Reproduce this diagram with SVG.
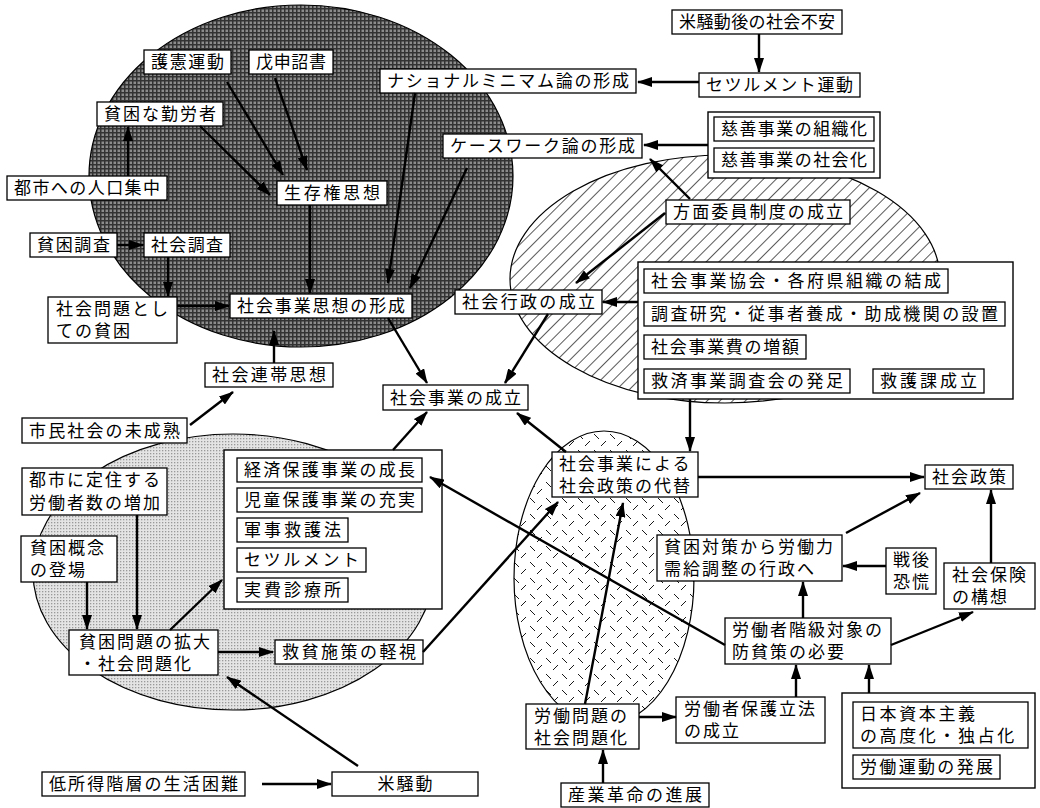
<svg xmlns="http://www.w3.org/2000/svg" width="1040" height="808" viewBox="0 0 1040 808">
<style>
.box{fill:#fff;stroke:#000;stroke-width:1.3}
.grp{fill:#fff;stroke:#000;stroke-width:1.4}
.t{font-family:"Liberation Sans","Noto Sans CJK JP",sans-serif;font-size:17px;fill:#000}
.m{letter-spacing:2px}
.c line{stroke:#000;stroke-width:2.4;marker-end:url(#ah)}
.reg{stroke:#000;stroke-width:1.2}
</style>
<defs>
<marker id="ah" viewBox="0 0 15 10" markerUnits="userSpaceOnUse" markerWidth="15" markerHeight="10" refX="14" refY="5" orient="auto">
<path d="M0,0 L15,5 L0,10 Z" fill="#000"/>
</marker>
<pattern id="check" patternUnits="userSpaceOnUse" width="4" height="4">
<rect width="4" height="4" fill="#8c8c8c"/>
<rect width="4" height="1.5" fill="#333"/>
<rect width="1.5" height="4" fill="#333"/>
</pattern>
<pattern id="hatch" patternUnits="userSpaceOnUse" width="9" height="9" patternTransform="rotate(45)">
<rect width="9" height="9" fill="#fff"/>
<line x1="0" y1="0" x2="0" y2="9" stroke="#000" stroke-width="1.3"/>
</pattern>
<pattern id="dots" patternUnits="userSpaceOnUse" width="3" height="3">
<rect width="3" height="3" fill="#e4e4e4"/>
<rect width="1.3" height="1.3" fill="#999"/>
</pattern>
<pattern id="plate" patternUnits="userSpaceOnUse" width="16" height="16">
<rect width="16" height="16" fill="#fff"/>
<line x1="2" y1="2" x2="7" y2="7" stroke="#000" stroke-width="0.9"/>
<line x1="9" y1="14" x2="14" y2="9" stroke="#000" stroke-width="0.9"/>
</pattern>
</defs>
<rect width="1040" height="808" fill="#fff"/>
<g id="regions">
<ellipse class="reg" cx="301" cy="176" rx="212" ry="171" fill="url(#check)"/>
<ellipse class="reg" cx="725" cy="279" rx="215" ry="124" fill="url(#hatch)"/>
<ellipse class="reg" cx="233" cy="572" rx="200" ry="138" fill="url(#dots)"/>
<ellipse class="reg" cx="604" cy="578" rx="90" ry="147" fill="url(#plate)"/>
</g>
<g id="n1"><rect class="box" x="672" y="10" width="170" height="24"/><text class="t" x="679" y="28" textLength="156" lengthAdjust="spacing">米騒動後の社会不安</text></g>
<g id="n2"><rect class="box" x="699" y="73" width="161" height="24"/><text class="t" x="706" y="91" textLength="147" lengthAdjust="spacing">セツルメント運動</text></g>
<g id="n3"><rect class="box" x="380" y="69" width="256" height="24"/><text class="t" x="387" y="87" textLength="242" lengthAdjust="spacing">ナショナルミニマム論の形成</text></g>
<g id="n4"><rect class="box" x="144" y="50" width="87" height="24"/><text class="t" x="151" y="68" textLength="73" lengthAdjust="spacing">護憲運動</text></g>
<g id="n5"><rect class="box" x="249" y="50" width="84" height="24"/><text class="t" x="256" y="68" textLength="70" lengthAdjust="spacing">戊申詔書</text></g>
<g id="n6"><rect class="box" x="97" y="102" width="126" height="24"/><text class="t" x="104" y="120" textLength="112" lengthAdjust="spacing">貧困な勤労者</text></g>
<g id="n7"><rect class="box" x="443" y="134" width="199" height="24"/><text class="t" x="450" y="152" textLength="185" lengthAdjust="spacing">ケースワーク論の形成</text></g>
<g id="n8"><rect class="grp" x="708" y="112" width="172" height="66"/>
<rect class="box" x="714" y="117" width="160" height="24"/><text class="t" x="721" y="135" textLength="146" lengthAdjust="spacing">慈善事業の組織化</text>
<rect class="box" x="714" y="148" width="160" height="24"/><text class="t" x="721" y="166" textLength="146" lengthAdjust="spacing">慈善事業の社会化</text></g>
<g id="n9"><rect class="box" x="7" y="176" width="160" height="24"/><text class="t" x="14" y="194" textLength="146" lengthAdjust="spacing">都市への人口集中</text></g>
<g id="n10"><rect class="box" x="277" y="181" width="110" height="24"/><text class="t" x="284" y="199" textLength="96" lengthAdjust="spacing">生存権思想</text></g>
<g id="n11"><rect class="box" x="666" y="200" width="184" height="24"/><text class="t" x="673" y="218" textLength="170" lengthAdjust="spacing">方面委員制度の成立</text></g>
<g id="n12"><rect class="box" x="30" y="233" width="87" height="24"/><text class="t" x="37" y="251" textLength="73" lengthAdjust="spacing">貧困調査</text></g>
<g id="n13"><rect class="box" x="144" y="233" width="86" height="24"/><text class="t" x="151" y="251" textLength="72" lengthAdjust="spacing">社会調査</text></g>
<g id="n14"><rect class="box" x="48" y="297" width="129" height="46"/><text class="t m"><tspan x="56" y="315">社会問題とし</tspan><tspan x="56" y="337">ての貧困</tspan></text></g>
<g id="n15"><rect class="box" x="230" y="294" width="182" height="24"/><text class="t" x="237" y="312" textLength="168" lengthAdjust="spacing">社会事業思想の形成</text></g>
<g id="n16"><rect class="box" x="455" y="290" width="147" height="24"/><text class="t" x="462" y="308" textLength="133" lengthAdjust="spacing">社会行政の成立</text></g>
<g id="n17"><rect class="grp" x="638" y="262" width="375" height="137"/>
<rect class="box" x="644" y="269" width="304" height="24"/><text class="t" x="651" y="287" textLength="290" lengthAdjust="spacing">社会事業協会・各府県組織の結成</text>
<rect class="box" x="644" y="302" width="361" height="24"/><text class="t" x="651" y="320" textLength="347" lengthAdjust="spacing">調査研究・従事者養成・助成機関の設置</text>
<rect class="box" x="644" y="335" width="162" height="24"/><text class="t" x="651" y="353" textLength="148" lengthAdjust="spacing">社会事業費の増額</text>
<rect class="box" x="644" y="369" width="206" height="24"/><text class="t" x="651" y="387" textLength="192" lengthAdjust="spacing">救済事業調査会の発足</text>
<rect class="box" x="873" y="369" width="111" height="24"/><text class="t" x="880" y="387" textLength="97" lengthAdjust="spacing">救護課成立</text></g>
<g id="n18"><rect class="box" x="205" y="363" width="128" height="24"/><text class="t" x="212" y="381" textLength="114" lengthAdjust="spacing">社会連帯思想</text></g>
<g id="n19"><rect class="box" x="22" y="418" width="165" height="25"/><text class="t" x="29" y="437" textLength="151" lengthAdjust="spacing">市民社会の未成熟</text></g>
<g id="n20"><rect class="box" x="383" y="385" width="145" height="25"/><text class="t" x="390" y="404" textLength="131" lengthAdjust="spacing">社会事業の成立</text></g>
<g id="n21"><rect class="box" x="552" y="452" width="146" height="45"/><text class="t m"><tspan x="559" y="470">社会事業による</tspan><tspan x="559" y="492">社会政策の代替</tspan></text></g>
<g id="n22"><rect class="box" x="925" y="465" width="88" height="24"/><text class="t" x="932" y="483" textLength="74" lengthAdjust="spacing">社会政策</text></g>
<g id="n23"><rect class="grp" x="224" y="450" width="218" height="159"/>
<rect class="box" x="237" y="458" width="185" height="24"/><text class="t" x="244" y="476" textLength="171" lengthAdjust="spacing">経済保護事業の成長</text>
<rect class="box" x="237" y="488" width="185" height="24"/><text class="t" x="244" y="506" textLength="171" lengthAdjust="spacing">児童保護事業の充実</text>
<rect class="box" x="237" y="518" width="111" height="24"/><text class="t" x="244" y="536" textLength="97" lengthAdjust="spacing">軍事救護法</text>
<rect class="box" x="237" y="548" width="129" height="24"/><text class="t" x="244" y="566" textLength="115" lengthAdjust="spacing">セツルメント</text>
<rect class="box" x="237" y="578" width="111" height="24"/><text class="t" x="244" y="596" textLength="97" lengthAdjust="spacing">実費診療所</text></g>
<g id="n24"><rect class="box" x="22" y="468" width="145" height="47"/><text class="t m"><tspan x="29" y="486">都市に定住する</tspan><tspan x="29" y="509">労働者数の増加</tspan></text></g>
<g id="n25"><rect class="box" x="21" y="536" width="96" height="46"/><text class="t m"><tspan x="30" y="554">貧困概念</tspan><tspan x="30" y="576">の登場</tspan></text></g>
<g id="n26"><rect class="box" x="69" y="630" width="149" height="45"/><text class="t m"><tspan x="79" y="648">貧困問題の拡大</tspan><tspan x="79" y="670">・社会問題化</tspan></text></g>
<g id="n27"><rect class="box" x="275" y="640" width="148" height="24"/><text class="t" x="282" y="658" textLength="134" lengthAdjust="spacing">救貧施策の軽視</text></g>
<g id="n28"><rect class="box" x="42" y="772" width="203" height="24"/><text class="t" x="49" y="790" textLength="189" lengthAdjust="spacing">低所得階層の生活困難</text></g>
<g id="n29"><rect class="box" x="332" y="772" width="146" height="24"/><text class="t m" x="406" y="790" text-anchor="middle">米騒動</text></g>
<g id="n30"><rect class="box" x="657" y="535" width="185" height="46"/><text class="t m"><tspan x="664" y="553">貧困対策から労働力</tspan><tspan x="664" y="575">需給調整の行政へ</tspan></text></g>
<g id="n31"><rect class="box" x="886" y="548" width="50" height="46"/><text class="t m"><tspan x="893" y="566">戦後</tspan><tspan x="893" y="588">恐慌</tspan></text></g>
<g id="n32"><rect class="box" x="944" y="563" width="91" height="46"/><text class="t m"><tspan x="952" y="581">社会保険</tspan><tspan x="952" y="603">の構想</tspan></text></g>
<g id="n33"><rect class="box" x="725" y="618" width="166" height="46"/><text class="t m"><tspan x="732" y="636">労働者階級対象の</tspan><tspan x="732" y="658">防貧策の必要</tspan></text></g>
<g id="n34"><rect class="box" x="676" y="697" width="149" height="46"/><text class="t m"><tspan x="684" y="715">労働者保護立法</tspan><tspan x="684" y="737">の成立</tspan></text></g>
<g id="n35"><rect class="grp" x="842" y="693" width="193" height="95"/>
<rect class="box" x="853" y="702" width="175" height="46"/><text class="t" style="letter-spacing:2.6px"><tspan x="860" y="720">日本資本主義</tspan><tspan x="860" y="742">の高度化・独占化</tspan></text>
<rect class="box" x="853" y="755" width="147" height="24"/><text class="t" x="860" y="773" textLength="133" lengthAdjust="spacing">労働運動の発展</text></g>
<g id="n36"><rect class="box" x="526" y="704" width="113" height="45"/><text class="t m"><tspan x="534" y="722">労働問題の</tspan><tspan x="534" y="744">社会問題化</tspan></text></g>
<g id="n37"><rect class="box" x="561" y="783" width="148" height="24"/><text class="t" x="568" y="801" textLength="134" lengthAdjust="spacing">産業革命の進展</text></g>
<g id="connectors" class="c">
<line x1="759" y1="34" x2="759" y2="72"/>
<line x1="699" y1="82" x2="638" y2="82"/>
<line x1="708" y1="145" x2="644" y2="145"/>
<line x1="690" y1="199" x2="650" y2="159"/>
<line x1="665" y1="213" x2="576" y2="283"/>
<line x1="638" y1="302" x2="603" y2="302"/>
<line x1="548" y1="314" x2="505" y2="383"/>
<line x1="388" y1="318" x2="427" y2="383"/>
<line x1="690" y1="399" x2="690" y2="451"/>
<line x1="566" y1="452" x2="517" y2="413"/>
<line x1="698" y1="477" x2="924" y2="477"/>
<line x1="393" y1="450" x2="427" y2="412"/>
<line x1="725" y1="645" x2="430" y2="477"/>
<line x1="423" y1="652" x2="558" y2="502"/>
<line x1="585" y1="704" x2="623" y2="503"/>
<line x1="846" y1="533" x2="920" y2="493"/>
<line x1="991" y1="563" x2="991" y2="490"/>
<line x1="886" y1="566" x2="843" y2="566"/>
<line x1="803" y1="618" x2="803" y2="582"/>
<line x1="891" y1="645" x2="973" y2="612"/>
<line x1="796" y1="697" x2="796" y2="665"/>
<line x1="869" y1="693" x2="869" y2="665"/>
<line x1="639" y1="717" x2="676" y2="717"/>
<line x1="603" y1="783" x2="603" y2="750"/>
<line x1="128" y1="176" x2="128" y2="127"/>
<line x1="200" y1="126" x2="270" y2="195"/>
<line x1="227" y1="82" x2="283" y2="175"/>
<line x1="275" y1="78" x2="307" y2="170"/>
<line x1="117" y1="245" x2="143" y2="245"/>
<line x1="168" y1="257" x2="168" y2="296"/>
<line x1="177" y1="306" x2="229" y2="306"/>
<line x1="310" y1="205" x2="310" y2="293"/>
<line x1="415" y1="93" x2="388" y2="283"/>
<line x1="467" y1="168" x2="410" y2="288"/>
<line x1="274" y1="363" x2="274" y2="331"/>
<line x1="190" y1="425" x2="233" y2="392"/>
<line x1="137" y1="515" x2="137" y2="629"/>
<line x1="87" y1="582" x2="87" y2="629"/>
<line x1="170" y1="630" x2="222" y2="580"/>
<line x1="218" y1="652" x2="273" y2="652"/>
<line x1="358" y1="766" x2="227" y2="677"/>
<line x1="262" y1="784" x2="331" y2="784"/>
</g>
</svg>
